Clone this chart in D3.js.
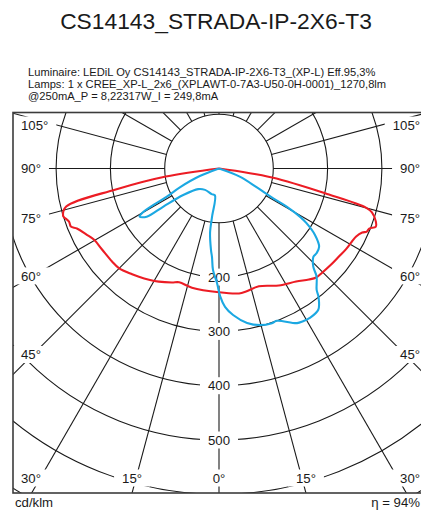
<!DOCTYPE html>
<html>
<head>
<meta charset="utf-8">
<script src="https://cdn.jsdelivr.net/npm/d3@7"></script>
<style>
  body { margin: 0; background: #fff; }
  svg { display: block; }
  text { font-family: "Liberation Sans", Arial, sans-serif; fill: #1a1a1a; }
</style>
</head>
<body>
<svg id="chart" width="421" height="510"></svg>
<script>
// ---- text ----
const titleText = "CS14143_STRADA-IP-2X6-T3";
const infoLines = [
  "Luminaire: LEDiL Oy CS14143_STRADA-IP-2X6-T3_(XP-L) Eff.95,3%",
  "Lamps: 1 x CREE_XP-L_2x6_(XPLAWT-0-7A3-U50-0H-0001)_1270,8lm",
  "@250mA_P = 8,22317W_I = 249,8mA"
];
const unitText = "cd/klm";
const effText = "\u03b7 = 94%";

// ---- grid ----
const ringValues = [100, 200, 300, 400, 500, 600, 700, 800];
const ringLabels = [200, 300, 400, 500];
const spokeAngles = d3.range(-165, 181, 15);
const angleLabels = [-105, -90, -75, -60, -45, -30, -15, 0, 15, 30, 45, 60, 75, 90, 105];

// ---- luminous intensity (cd/klm), angle from nadir; negative = C180 side, positive = C0 side ----
const redAngles = [-90, -81.4, -78.5, -76, -73.2, -72.5, -70.5, -68.6, -67.1, -63.6, -60.4, -55.3, -49, -45,
  -39.4, -36.5, -32.2, -28, -22.4, -19.3, -12.8, 0, 9.1, 12.4, 18.7, 27.1, 34.3, 39, 41.7, 44.7, 49.4,
  53.7, 57.5, 60.7, 63.6, 65.9, 66.9, 68.2, 69.7, 71.3, 74, 75.1, 76.7, 80.4, 90];
const redValues = [0, 99, 194, 290, 300, 299, 293, 293, 284, 273, 265, 262, 261, 260,
  252, 248, 242, 236, 227, 222, 225, 228, 233, 232, 229, 242, 252, 263, 269, 270, 272,
  274, 277, 279, 282, 289, 296, 298, 308, 305, 293, 280, 208, 99, 0];

const blueAngles = [-90, -68.5, -64.3, -61.7, -60.9, -59.9, -58.8, -56.3, -55.6, -53.4, -45.3, -33.1, -16,
  -8.6, -8.2, -7.9, -5.6, -4.5, -3.4, -1, 0.5, 2.5, 5.5, 10.3, 14.7, 18.9, 20.8, 26.8, 28.8, 31.3,
  35.1, 37.8, 38.8, 42.1, 43.8, 46.9, 49, 52, 55.3, 58, 59.2, 60.6, 61.2, 63.5, 68.7, 90];
const blueValues = [0, 38, 80, 109, 138, 164, 171, 160, 124, 82, 54, 47, 49,
  50, 90, 120, 151, 164, 187, 211, 235, 255, 271, 289, 298, 301, 300, 319, 321, 322,
  318, 299, 287, 268, 251, 238, 238, 234, 215, 190, 174, 143, 114, 78, 41, 0];

// ---- layout ----
const W = 421;
const svg = d3.select("#chart");
const frame = { left: 13, top: 112.5, right: 426, bottom: 493 };
const cx = 219, cy = 168.5;
const r = d3.scaleLinear().domain([0, 100]).range([0, 54.3]);
const rad = g => g * Math.PI / 180;
// screen position of a polar point (angle from nadir, right side positive)
const pos = (g, v) => [cx + r(v) * Math.sin(rad(g)), cy + r(v) * Math.cos(rad(g))];

// title block
svg.append("text").attr("x", 216).attr("y", 29).attr("text-anchor", "middle")
  .attr("font-size", 22.8).text(titleText);
svg.append("g").selectAll("text").data(infoLines).join("text")
  .attr("x", 28).attr("y", (d, i) => 75.5 + i * 12)
  .attr("font-size", 11.15).text(d => d);

// plot area
svg.append("defs").append("clipPath").attr("id", "plotClip")
  .append("rect").attr("x", frame.left).attr("y", frame.top)
  .attr("width", frame.right - frame.left).attr("height", frame.bottom - frame.top);

const grid = svg.append("g").attr("clip-path", "url(#plotClip)");
grid.selectAll("circle").data(ringValues).join("circle")
  .attr("cx", cx).attr("cy", cy).attr("r", d => r(d))
  .attr("fill", "none").attr("stroke", "#1a1a1a").attr("stroke-width", 1.1);
grid.selectAll("line").data(spokeAngles).join("line")
  .attr("x1", d => pos(d, 100)[0]).attr("y1", d => pos(d, 100)[1])
  .attr("x2", d => pos(d, 1000)[0]).attr("y2", d => pos(d, 1000)[1])
  .attr("stroke", "#1a1a1a").attr("stroke-width", 1.1);

// labels sit on white boxes that interrupt the grid
const labels = svg.append("g");
const fs = 13.2;
function boxedLabel(x, yc, anchor, txt, padX) {
  const g = labels.append("g");
  const rect = g.append("rect").attr("fill", "#fff");
  const t = g.append("text").attr("x", x).attr("y", yc + fs * 0.35)
    .attr("text-anchor", anchor).attr("font-size", fs).text(txt);
  let bb = t.node().getBBox();
  // keep the text inside the visible width
  if (bb.x + bb.width > W - 1) {
    t.attr("x", x - (bb.x + bb.width - (W - 1)));
    bb = t.node().getBBox();
  }
  rect.attr("x", bb.x - padX).attr("width", bb.width + 2 * padX)
    .attr("y", yc - 8.5).attr("height", 17);
}

angleLabels.forEach(g => {
  const a = Math.abs(g);
  const txt = a + "\u00b0";
  if (a >= 30) {
    const x = g < 0 ? frame.left + 8 : cx + 182;
    const yc = a === 30 ? frame.bottom - 15
      : Math.max(frame.top + 12.5, cy + 186 / Math.tan(rad(a)));
    boxedLabel(x, yc, "start", txt, 8);
  } else {
    const x = cx + (frame.bottom - cy) * Math.tan(rad(g));
    boxedLabel(x, frame.bottom - 15, "middle", txt, 8);
  }
});
ringLabels.forEach(v => boxedLabel(cx, cy + r(v), "middle", String(v), 8));

// intensity curves
const radial = d3.lineRadial()
  .angle(d => Math.PI - rad(d[0]))
  .radius(d => r(d[1]))
  .curve(d3.curveCatmullRom.alpha(0.5));
const curves = svg.append("g").attr("transform", `translate(${cx},${cy})`)
  .attr("fill", "none").attr("stroke-width", 2.1).attr("stroke-linejoin", "round");
curves.append("path").attr("stroke", "#ec1c24")
  .attr("d", radial(d3.zip(redAngles, redValues)));
curves.append("path").attr("stroke", "#1ba8e2")
  .attr("d", radial(d3.zip(blueAngles, blueValues)));

// frame
svg.append("rect").attr("x", frame.left).attr("y", frame.top)
  .attr("width", frame.right - frame.left).attr("height", frame.bottom - frame.top)
  .attr("fill", "none").attr("stroke", "#3c3c3c").attr("stroke-width", 1.6);

// footer
svg.append("text").attr("x", 15).attr("y", 507).attr("font-size", fs).text(unitText);
svg.append("text").attr("x", W - 1).attr("y", 507).attr("text-anchor", "end")
  .attr("font-size", fs).text(effText);
</script>
</body>
</html>
